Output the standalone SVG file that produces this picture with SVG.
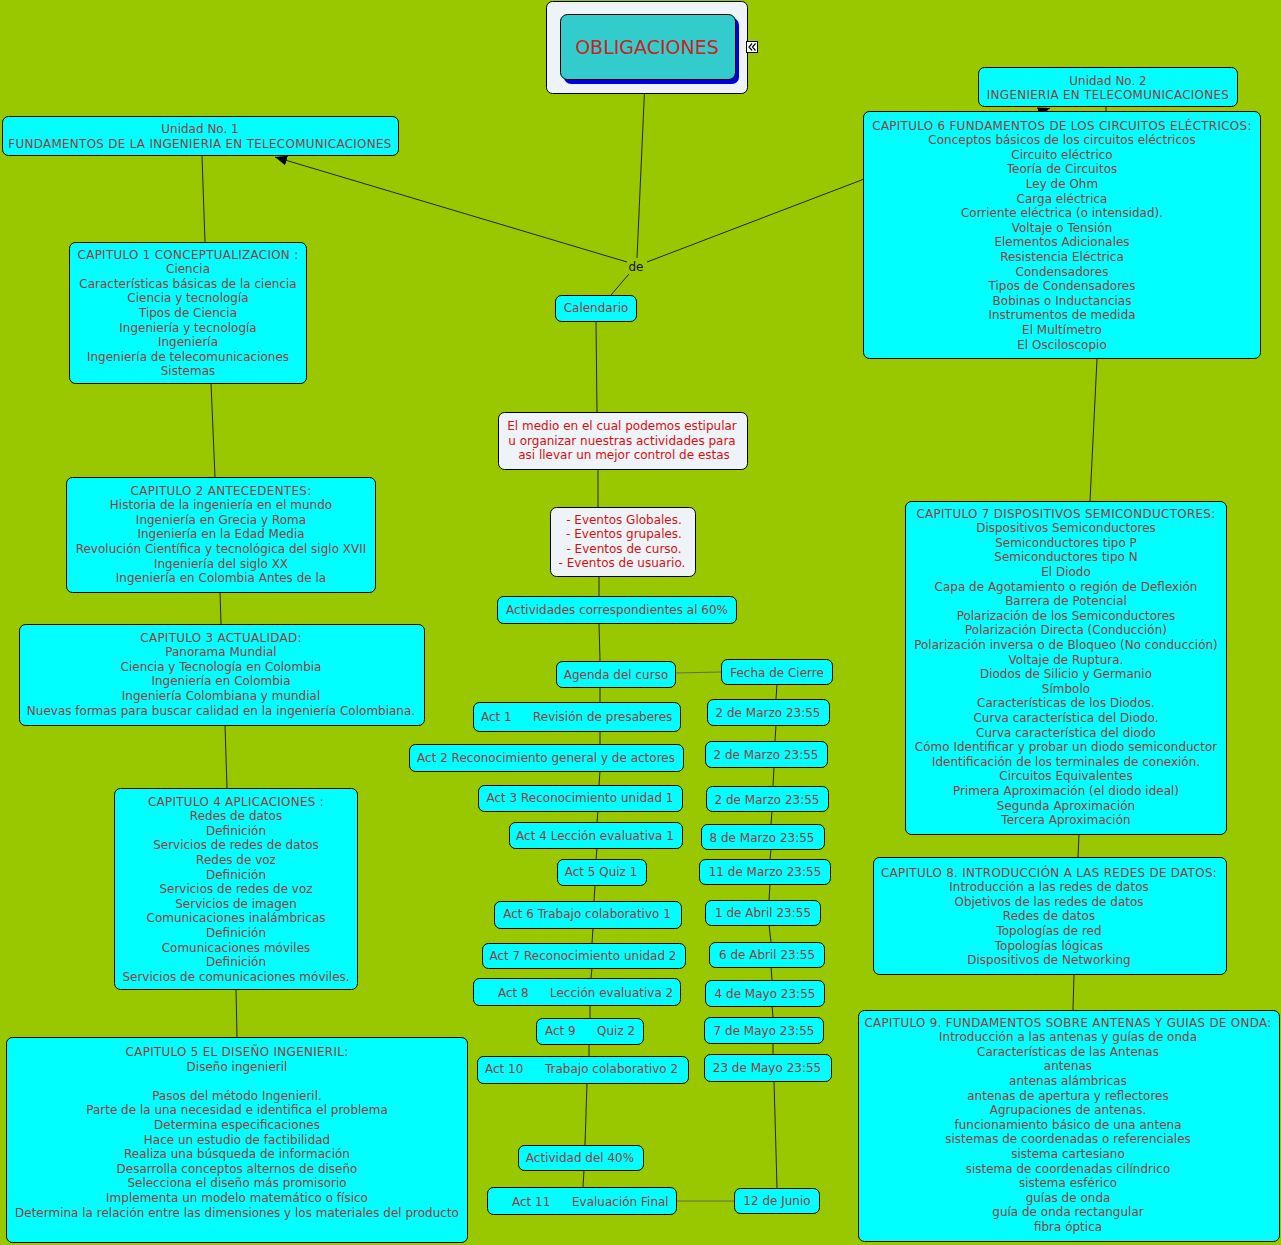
<svg xmlns="http://www.w3.org/2000/svg" width="1281" height="1245" viewBox="0 0 1281 1245">
<style>
.n{fill:#00ffff;stroke:#000;stroke-width:1}
.w{fill:#eef3f7;stroke:#000;stroke-width:1}
.t{font-family:"DejaVu Sans",Verdana,sans-serif;font-size:12px;fill:#963c3c;text-anchor:middle}
.h{letter-spacing:0.25px}
.s{text-anchor:start}
.r{fill:#d41010}
.c{stroke:#222;stroke-width:1;fill:none}
.g{stroke:#666;stroke-width:1;fill:none}
</style>
<defs>
<marker id="ah" viewBox="0 0 12 10" refX="12" refY="5" markerWidth="12" markerHeight="10" markerUnits="userSpaceOnUse" orient="auto">
<path d="M0,0 L12,5 L0,10 z" fill="#000"/>
</marker>
</defs>
<rect width="1281" height="1245" fill="#99c800"/>

<g id="connectors">
<line class="c" x1="645" y1="80" x2="637" y2="258"/>
<line class="c" x1="627" y1="262" x2="275" y2="157" marker-end="url(#ah)"/>
<line class="c" x1="647" y1="262" x2="1050" y2="108" marker-end="url(#ah)"/>
<line class="c" x1="629" y1="274" x2="611" y2="295"/>
<line class="c" x1="202" y1="156" x2="205" y2="242"/>
<line class="c" x1="211" y1="383" x2="215" y2="477"/>
<line class="c" x1="220" y1="592" x2="221" y2="624"/>
<line class="c" x1="225" y1="725" x2="227" y2="788"/>
<line class="c" x1="236" y1="989" x2="237" y2="1037"/>
<line class="c" x1="1106" y1="106" x2="1106" y2="111"/>
<line class="c" x1="1097" y1="359" x2="1090" y2="501"/>
<line class="c" x1="1079" y1="834" x2="1078" y2="857"/>
<line class="c" x1="1074" y1="974" x2="1073" y2="1010"/>
<line class="c" x1="596" y1="321" x2="597" y2="412"/>
<line class="c" x1="598" y1="469" x2="598" y2="507"/>
<line class="c" x1="599" y1="576" x2="599" y2="596"/>
<line class="c" x1="599" y1="623" x2="600" y2="661"/>
<line class="g" x1="675" y1="673" x2="721" y2="672"/>
<line class="c" x1="600" y1="687" x2="600" y2="702"/>
<line class="c" x1="600" y1="731" x2="600" y2="744"/>
<line class="c" x1="600" y1="771" x2="599" y2="785"/>
<line class="c" x1="598" y1="811" x2="597" y2="822"/>
<line class="c" x1="597" y1="848" x2="596" y2="859"/>
<line class="c" x1="595" y1="885" x2="594" y2="901"/>
<line class="c" x1="593" y1="928" x2="592" y2="943"/>
<line class="c" x1="592" y1="968" x2="591" y2="978"/>
<line class="c" x1="590" y1="1005" x2="590" y2="1018"/>
<line class="c" x1="589" y1="1044" x2="589" y2="1056"/>
<line class="c" x1="587" y1="1083" x2="585" y2="1145"/>
<line class="c" x1="584" y1="1170" x2="583" y2="1187"/>
<line class="g" x1="676" y1="1201" x2="734" y2="1201"/>
<line class="c" x1="777" y1="684" x2="776" y2="699"/>
<line class="c" x1="776" y1="725" x2="775" y2="741"/>
<line class="c" x1="774" y1="767" x2="773" y2="786"/>
<line class="c" x1="772" y1="811" x2="771" y2="824"/>
<line class="c" x1="771" y1="849" x2="770" y2="859"/>
<line class="c" x1="770" y1="884" x2="769" y2="900"/>
<line class="c" x1="769" y1="925" x2="771" y2="942"/>
<line class="c" x1="771" y1="967" x2="772" y2="980"/>
<line class="c" x1="772" y1="1006" x2="773" y2="1017"/>
<line class="c" x1="773" y1="1043" x2="773" y2="1054"/>
<line class="c" x1="774" y1="1081" x2="777" y2="1188"/>
<rect x="628" y="258" width="18" height="16" fill="#99c800"/>
<text class="t" x="636" y="271" style="fill:#111">de</text>
</g>

<g id="obligaciones">
<rect class="w" x="546.5" y="1.5" width="201" height="92" rx="6"/>
<rect x="564" y="18" width="175" height="66" rx="7" fill="#0000dd"/>
<rect x="560.5" y="14.5" width="175" height="65" rx="7" fill="#33cccc" stroke="#000"/>
<text class="t" x="647" y="54" style="font-size:19px;fill:#cc2222">OBLIGACIONES</text>
<rect x="746.5" y="41.5" width="11" height="11" fill="#fff" stroke="#000"/>
<path d="M752,43.5 L749,47 L752,50.5 M755.5,43.5 L752.5,47 L755.5,50.5" stroke="#000" stroke-width="1.2" fill="none"/>
</g>

<g id="unidad1">
<rect class="n" x="2.5" y="116.5" width="396" height="39" rx="6"/>
<text class="t" x="200" y="133">Unidad No. 1<tspan class="h" x="200" dy="14.5">FUNDAMENTOS DE LA INGENIERIA EN TELECOMUNICACIONES</tspan></text>
</g>

<g id="unidad2">
<rect class="n" x="978.5" y="67.5" width="259" height="39" rx="6"/>
<text class="t" x="1108" y="84.5">Unidad No. 2<tspan class="h" x="1108" dy="14">INGENIERIA EN TELECOMUNICACIONES</tspan></text>
</g>

<g id="cap6">
<rect class="n" x="863.5" y="111.5" width="397" height="247" rx="6"/>
<text class="t" x="1062" y="129.5"><tspan class="h">CAPITULO 6 FUNDAMENTOS DE LOS CIRCUITOS ELÉCTRICOS:</tspan><tspan x="1062" dy="14.6">Conceptos básicos de los circuitos eléctricos</tspan><tspan x="1062" dy="14.6">Circuito eléctrico</tspan><tspan x="1062" dy="14.6">Teoría de Circuitos</tspan><tspan x="1062" dy="14.6">Ley de Ohm</tspan><tspan x="1062" dy="14.6">Carga eléctrica</tspan><tspan x="1062" dy="14.6">Corriente eléctrica (o intensidad).</tspan><tspan x="1062" dy="14.6">Voltaje o Tensión</tspan><tspan x="1062" dy="14.6">Elementos Adicionales</tspan><tspan x="1062" dy="14.6">Resistencia Eléctrica</tspan><tspan x="1062" dy="14.6">Condensadores</tspan><tspan x="1062" dy="14.6">Tipos de Condensadores</tspan><tspan x="1062" dy="14.6">Bobinas o Inductancias</tspan><tspan x="1062" dy="14.6">Instrumentos de medida</tspan><tspan x="1062" dy="14.6">El Multímetro</tspan><tspan x="1062" dy="14.6">El Osciloscopio</tspan></text>
</g>

<g id="cap1">
<rect class="n" x="69.5" y="242.5" width="237" height="141" rx="6"/>
<text class="t" x="188" y="258.5"><tspan class="h">CAPITULO 1 CONCEPTUALIZACION :</tspan><tspan x="188" dy="14.6">Ciencia</tspan><tspan x="188" dy="14.6">Características básicas de la ciencia</tspan><tspan x="188" dy="14.6">Ciencia y tecnología</tspan><tspan x="188" dy="14.6">Tipos de Ciencia</tspan><tspan x="188" dy="14.6">Ingeniería y tecnología</tspan><tspan x="188" dy="14.6">Ingeniería</tspan><tspan x="188" dy="14.6">Ingeniería de telecomunicaciones</tspan><tspan x="188" dy="14.6">Sistemas</tspan></text>
</g>

<g id="cap2">
<rect class="n" x="66.5" y="477.5" width="309" height="115" rx="6"/>
<text class="t" x="221" y="494.5"><tspan class="h">CAPITULO 2 ANTECEDENTES:</tspan><tspan x="221" dy="14.6">Historia de la ingeniería en el mundo</tspan><tspan x="221" dy="14.6">Ingeniería en Grecia y Roma</tspan><tspan x="221" dy="14.6">Ingeniería en la Edad Media</tspan><tspan x="221" dy="14.6">Revolución Científica y tecnológica del siglo XVII</tspan><tspan x="221" dy="14.6">Ingeniería del siglo XX</tspan><tspan x="221" dy="14.6">Ingeniería en Colombia Antes de la</tspan></text>
</g>

<g id="cap3">
<rect class="n" x="19.5" y="624.5" width="405" height="101" rx="6"/>
<text class="t" x="221" y="641.5"><tspan class="h">CAPITULO 3 ACTUALIDAD:</tspan><tspan x="221" dy="14.6">Panorama Mundial</tspan><tspan x="221" dy="14.6">Ciencia y Tecnología en Colombia</tspan><tspan x="221" dy="14.6">Ingeniería en Colombia</tspan><tspan x="221" dy="14.6">Ingeniería Colombiana y mundial</tspan><tspan x="221" dy="14.6">Nuevas formas para buscar calidad en la ingeniería Colombiana.</tspan></text>
</g>

<g id="cap4">
<rect class="n" x="114.5" y="788.5" width="243" height="201" rx="6"/>
<text class="t" x="236" y="805.5"><tspan class="h">CAPITULO 4 APLICACIONES :</tspan><tspan x="236" dy="14.6">Redes de datos</tspan><tspan x="236" dy="14.6">Definición</tspan><tspan x="236" dy="14.6">Servicios de redes de datos</tspan><tspan x="236" dy="14.6">Redes de voz</tspan><tspan x="236" dy="14.6">Definición</tspan><tspan x="236" dy="14.6">Servicios de redes de voz</tspan><tspan x="236" dy="14.6">Servicios de imagen</tspan><tspan x="236" dy="14.6">Comunicaciones inalámbricas</tspan><tspan x="236" dy="14.6">Definición</tspan><tspan x="236" dy="14.6">Comunicaciones móviles</tspan><tspan x="236" dy="14.6">Definición</tspan><tspan x="236" dy="14.6">Servicios de comunicaciones móviles.</tspan></text>
</g>

<g id="cap5">
<rect class="n" x="6.5" y="1037.5" width="461" height="205" rx="6"/>
<text class="t" x="237" y="1056"><tspan class="h">CAPITULO 5 EL DISEÑO INGENIERIL:</tspan><tspan x="237" dy="14.6">Diseño ingenieril</tspan><tspan x="237" dy="29.2">Pasos del método Ingenieril.</tspan><tspan x="237" dy="14.6">Parte de la una necesidad e identifica el problema</tspan><tspan x="237" dy="14.6">Determina especificaciones</tspan><tspan x="237" dy="14.6">Hace un estudio de factibilidad</tspan><tspan x="237" dy="14.6">Realiza una búsqueda de información</tspan><tspan x="237" dy="14.6">Desarrolla conceptos alternos de diseño</tspan><tspan x="237" dy="14.6">Selecciona el diseño más promisorio</tspan><tspan x="237" dy="14.6">Implementa un modelo matemático o físico</tspan><tspan x="237" dy="14.6">Determina la relación entre las dimensiones y los materiales del producto</tspan></text>
</g>

<g id="calendario">
<rect class="n" x="555.5" y="295.5" width="81" height="26" rx="6"/>
<text class="t" x="596" y="312">Calendario</text>
</g>

<g id="medio">
<rect class="w" x="498.5" y="412.5" width="249" height="57" rx="6"/>
<text class="t r" x="622" y="430">El medio en el cual podemos estipular<tspan x="622" dy="14.5">u organizar nuestras actividades para</tspan><tspan x="624" dy="14.5">asi llevar un mejor control de estas</tspan></text>
</g>

<g id="eventos">
<rect class="w" x="550.5" y="507.5" width="145" height="69" rx="6"/>
<text class="t r" x="624" y="523.5">- Eventos Globales.<tspan x="624" dy="14.5">- Eventos grupales.</tspan><tspan x="624" dy="14.5">- Eventos de curso.</tspan><tspan x="622" dy="14.5">- Eventos de usuario.</tspan></text>
</g>

<g id="act60">
<rect class="n" x="497.5" y="596.5" width="239" height="27" rx="6"/>
<text class="t" x="617" y="613.5">Actividades correspondientes al 60%</text>
</g>

<g id="agenda">
<rect class="n" x="556.5" y="661.5" width="119" height="26" rx="6"/>
<text class="t" x="616" y="678.5">Agenda del curso</text>
</g>

<g id="fecha">
<rect class="n" x="721.5" y="659.5" width="111" height="25" rx="6"/>
<text class="t" x="777" y="676.5">Fecha de Cierre</text>
</g>

<g id="act1">
<rect class="n" x="473.5" y="702.5" width="207" height="29" rx="6"/>
<text class="t s" x="481" y="720.5">Act 1<tspan x="533">Revisión de presaberes</tspan></text>
</g>
<g id="act2">
<rect class="n" x="409.5" y="744.5" width="274" height="27" rx="6"/>
<text class="t" x="546" y="761.5">Act 2 Reconocimiento general y de actores</text>
</g>
<g id="act3">
<rect class="n" x="478.5" y="785.5" width="204" height="26" rx="6"/>
<text class="t" x="580" y="801.5">Act 3 Reconocimiento unidad 1</text>
</g>
<g id="act4">
<rect class="n" x="509.5" y="822.5" width="173" height="26" rx="6"/>
<text class="t" x="595" y="839.5">Act 4 Lección evaluativa 1</text>
</g>
<g id="act5">
<rect class="n" x="557.5" y="859.5" width="89" height="26" rx="6"/>
<text class="t" x="601" y="875.5">Act 5 Quiz 1</text>
</g>
<g id="act6">
<rect class="n" x="494.5" y="901.5" width="187" height="27" rx="6"/>
<text class="t" x="587" y="917.5">Act 6 Trabajo colaborativo 1</text>
</g>
<g id="act7">
<rect class="n" x="482.5" y="943.5" width="203" height="25" rx="6"/>
<text class="t" x="583" y="959.5">Act 7 Reconocimiento unidad 2</text>
</g>
<g id="act8">
<rect class="n" x="473.5" y="978.5" width="207" height="27" rx="6"/>
<text class="t s" x="498" y="996.5">Act 8<tspan x="550">Lección evaluativa 2</tspan></text>
</g>
<g id="act9">
<rect class="n" x="536.5" y="1018.5" width="107" height="26" rx="6"/>
<text class="t s" x="545" y="1034.5">Act 9<tspan x="597">Quiz 2</tspan></text>
</g>
<g id="act10">
<rect class="n" x="477.5" y="1056.5" width="211" height="27" rx="6"/>
<text class="t s" x="485" y="1073">Act 10<tspan x="545">Trabajo colaborativo 2</tspan></text>
</g>
<g id="act40">
<rect class="n" x="518.5" y="1145.5" width="125" height="25" rx="6"/>
<text class="t" x="580" y="1161.5">Actividad del 40%</text>
</g>
<g id="act11">
<rect class="n" x="487.5" y="1187.5" width="189" height="27" rx="6"/>
<text class="t s" x="512" y="1205.5">Act 11<tspan x="572">Evaluación Final</tspan></text>
</g>
<g id="junio">
<rect class="n" x="734.5" y="1188.5" width="85" height="25" rx="6"/>
<text class="t" x="777" y="1205">12 de Junio</text>
</g>

<g id="d1"><rect class="n" x="707.5" y="699.5" width="122" height="26" rx="6"/><text class="t" x="768" y="716.5">2 de Marzo 23:55</text></g>
<g id="d2"><rect class="n" x="705.5" y="741.5" width="122" height="26" rx="6"/><text class="t" x="766" y="758.5">2 de Marzo 23:55</text></g>
<g id="d3"><rect class="n" x="706.5" y="786.5" width="122" height="25" rx="6"/><text class="t" x="767" y="803.5">2 de Marzo 23:55</text></g>
<g id="d4"><rect class="n" x="701.5" y="824.5" width="123" height="25" rx="6"/><text class="t" x="762" y="841.5">8 de Marzo 23:55</text></g>
<g id="d5"><rect class="n" x="699.5" y="859.5" width="131" height="25" rx="6"/><text class="t" x="765" y="875.5">11 de Marzo 23:55</text></g>
<g id="d6"><rect class="n" x="705.5" y="900.5" width="115" height="25" rx="6"/><text class="t" x="763" y="916.5">1 de Abril 23:55</text></g>
<g id="d7"><rect class="n" x="709.5" y="942.5" width="115" height="25" rx="6"/><text class="t" x="767" y="958.5">6 de Abril 23:55</text></g>
<g id="d8"><rect class="n" x="705.5" y="980.5" width="119" height="26" rx="6"/><text class="t" x="765" y="997.5">4 de Mayo 23:55</text></g>
<g id="d9"><rect class="n" x="704.5" y="1017.5" width="119" height="26" rx="6"/><text class="t" x="764" y="1034.5">7 de Mayo 23:55</text></g>
<g id="d10"><rect class="n" x="704.5" y="1054.5" width="127" height="27" rx="6"/><text class="t" x="767" y="1071.5">23 de Mayo 23:55</text></g>

<g id="cap7">
<rect class="n" x="905.5" y="501.5" width="321" height="333" rx="6"/>
<text class="t" x="1066" y="517.5"><tspan class="h">CAPITULO 7 DISPOSITIVOS SEMICONDUCTORES:</tspan><tspan x="1066" dy="14.6">Dispositivos Semiconductores</tspan><tspan x="1066" dy="14.6">Semiconductores tipo P</tspan><tspan x="1066" dy="14.6">Semiconductores tipo N</tspan><tspan x="1066" dy="14.6">El Diodo</tspan><tspan x="1066" dy="14.6">Capa de Agotamiento o región de Deflexión</tspan><tspan x="1066" dy="14.6">Barrera de Potencial</tspan><tspan x="1066" dy="14.6">Polarización de los Semiconductores</tspan><tspan x="1066" dy="14.6">Polarización Directa (Conducción)</tspan><tspan x="1066" dy="14.6">Polarización inversa o de Bloqueo (No conducción)</tspan><tspan x="1066" dy="14.6">Voltaje de Ruptura.</tspan><tspan x="1066" dy="14.6">Diodos de Silicio y Germanio</tspan><tspan x="1066" dy="14.6">Símbolo</tspan><tspan x="1066" dy="14.6">Características de los Diodos.</tspan><tspan x="1066" dy="14.6">Curva característica del Diodo.</tspan><tspan x="1066" dy="14.6">Curva característica del diodo</tspan><tspan x="1066" dy="14.6">Cómo Identificar y probar un diodo semiconductor</tspan><tspan x="1066" dy="14.6">Identificación de los terminales de conexión.</tspan><tspan x="1066" dy="14.6">Circuitos Equivalentes</tspan><tspan x="1066" dy="14.6">Primera Aproximación (el diodo ideal)</tspan><tspan x="1066" dy="14.6">Segunda Aproximación</tspan><tspan x="1066" dy="14.6">Tercera Aproximación</tspan></text>
</g>

<g id="cap8">
<rect class="n" x="873.5" y="857.5" width="353" height="117" rx="6"/>
<text class="t" x="1049" y="876.5"><tspan class="h">CAPITULO 8. INTRODUCCIÓN A LAS REDES DE DATOS:</tspan><tspan x="1049" dy="14.6">Introducción a las redes de datos</tspan><tspan x="1049" dy="14.6">Objetivos de las redes de datos</tspan><tspan x="1049" dy="14.6">Redes de datos</tspan><tspan x="1049" dy="14.6">Topologías de red</tspan><tspan x="1049" dy="14.6">Topologías lógicas</tspan><tspan x="1049" dy="14.6">Dispositivos de Networking</tspan></text>
</g>

<g id="cap9">
<rect class="n" x="858.5" y="1010.5" width="421" height="231" rx="6"/>
<text class="t" x="1068" y="1026.5"><tspan class="h">CAPITULO 9. FUNDAMENTOS SOBRE ANTENAS Y GUIAS DE ONDA:</tspan><tspan x="1068" dy="14.6">Introducción a las antenas y guías de onda</tspan><tspan x="1068" dy="14.6">Características de las Antenas</tspan><tspan x="1068" dy="14.6">antenas</tspan><tspan x="1068" dy="14.6">antenas alámbricas</tspan><tspan x="1068" dy="14.6">antenas de apertura y reflectores</tspan><tspan x="1068" dy="14.6">Agrupaciones de antenas.</tspan><tspan x="1068" dy="14.6">funcionamiento básico de una antena</tspan><tspan x="1068" dy="14.6">sistemas de coordenadas o referenciales</tspan><tspan x="1068" dy="14.6">sistema cartesiano</tspan><tspan x="1068" dy="14.6">sistema de coordenadas cilíndrico</tspan><tspan x="1068" dy="14.6">sistema esférico</tspan><tspan x="1068" dy="14.6">guías de onda</tspan><tspan x="1068" dy="14.6">guía de onda rectangular</tspan><tspan x="1068" dy="14.6">fibra óptica</tspan></text>
</g>
</svg>
